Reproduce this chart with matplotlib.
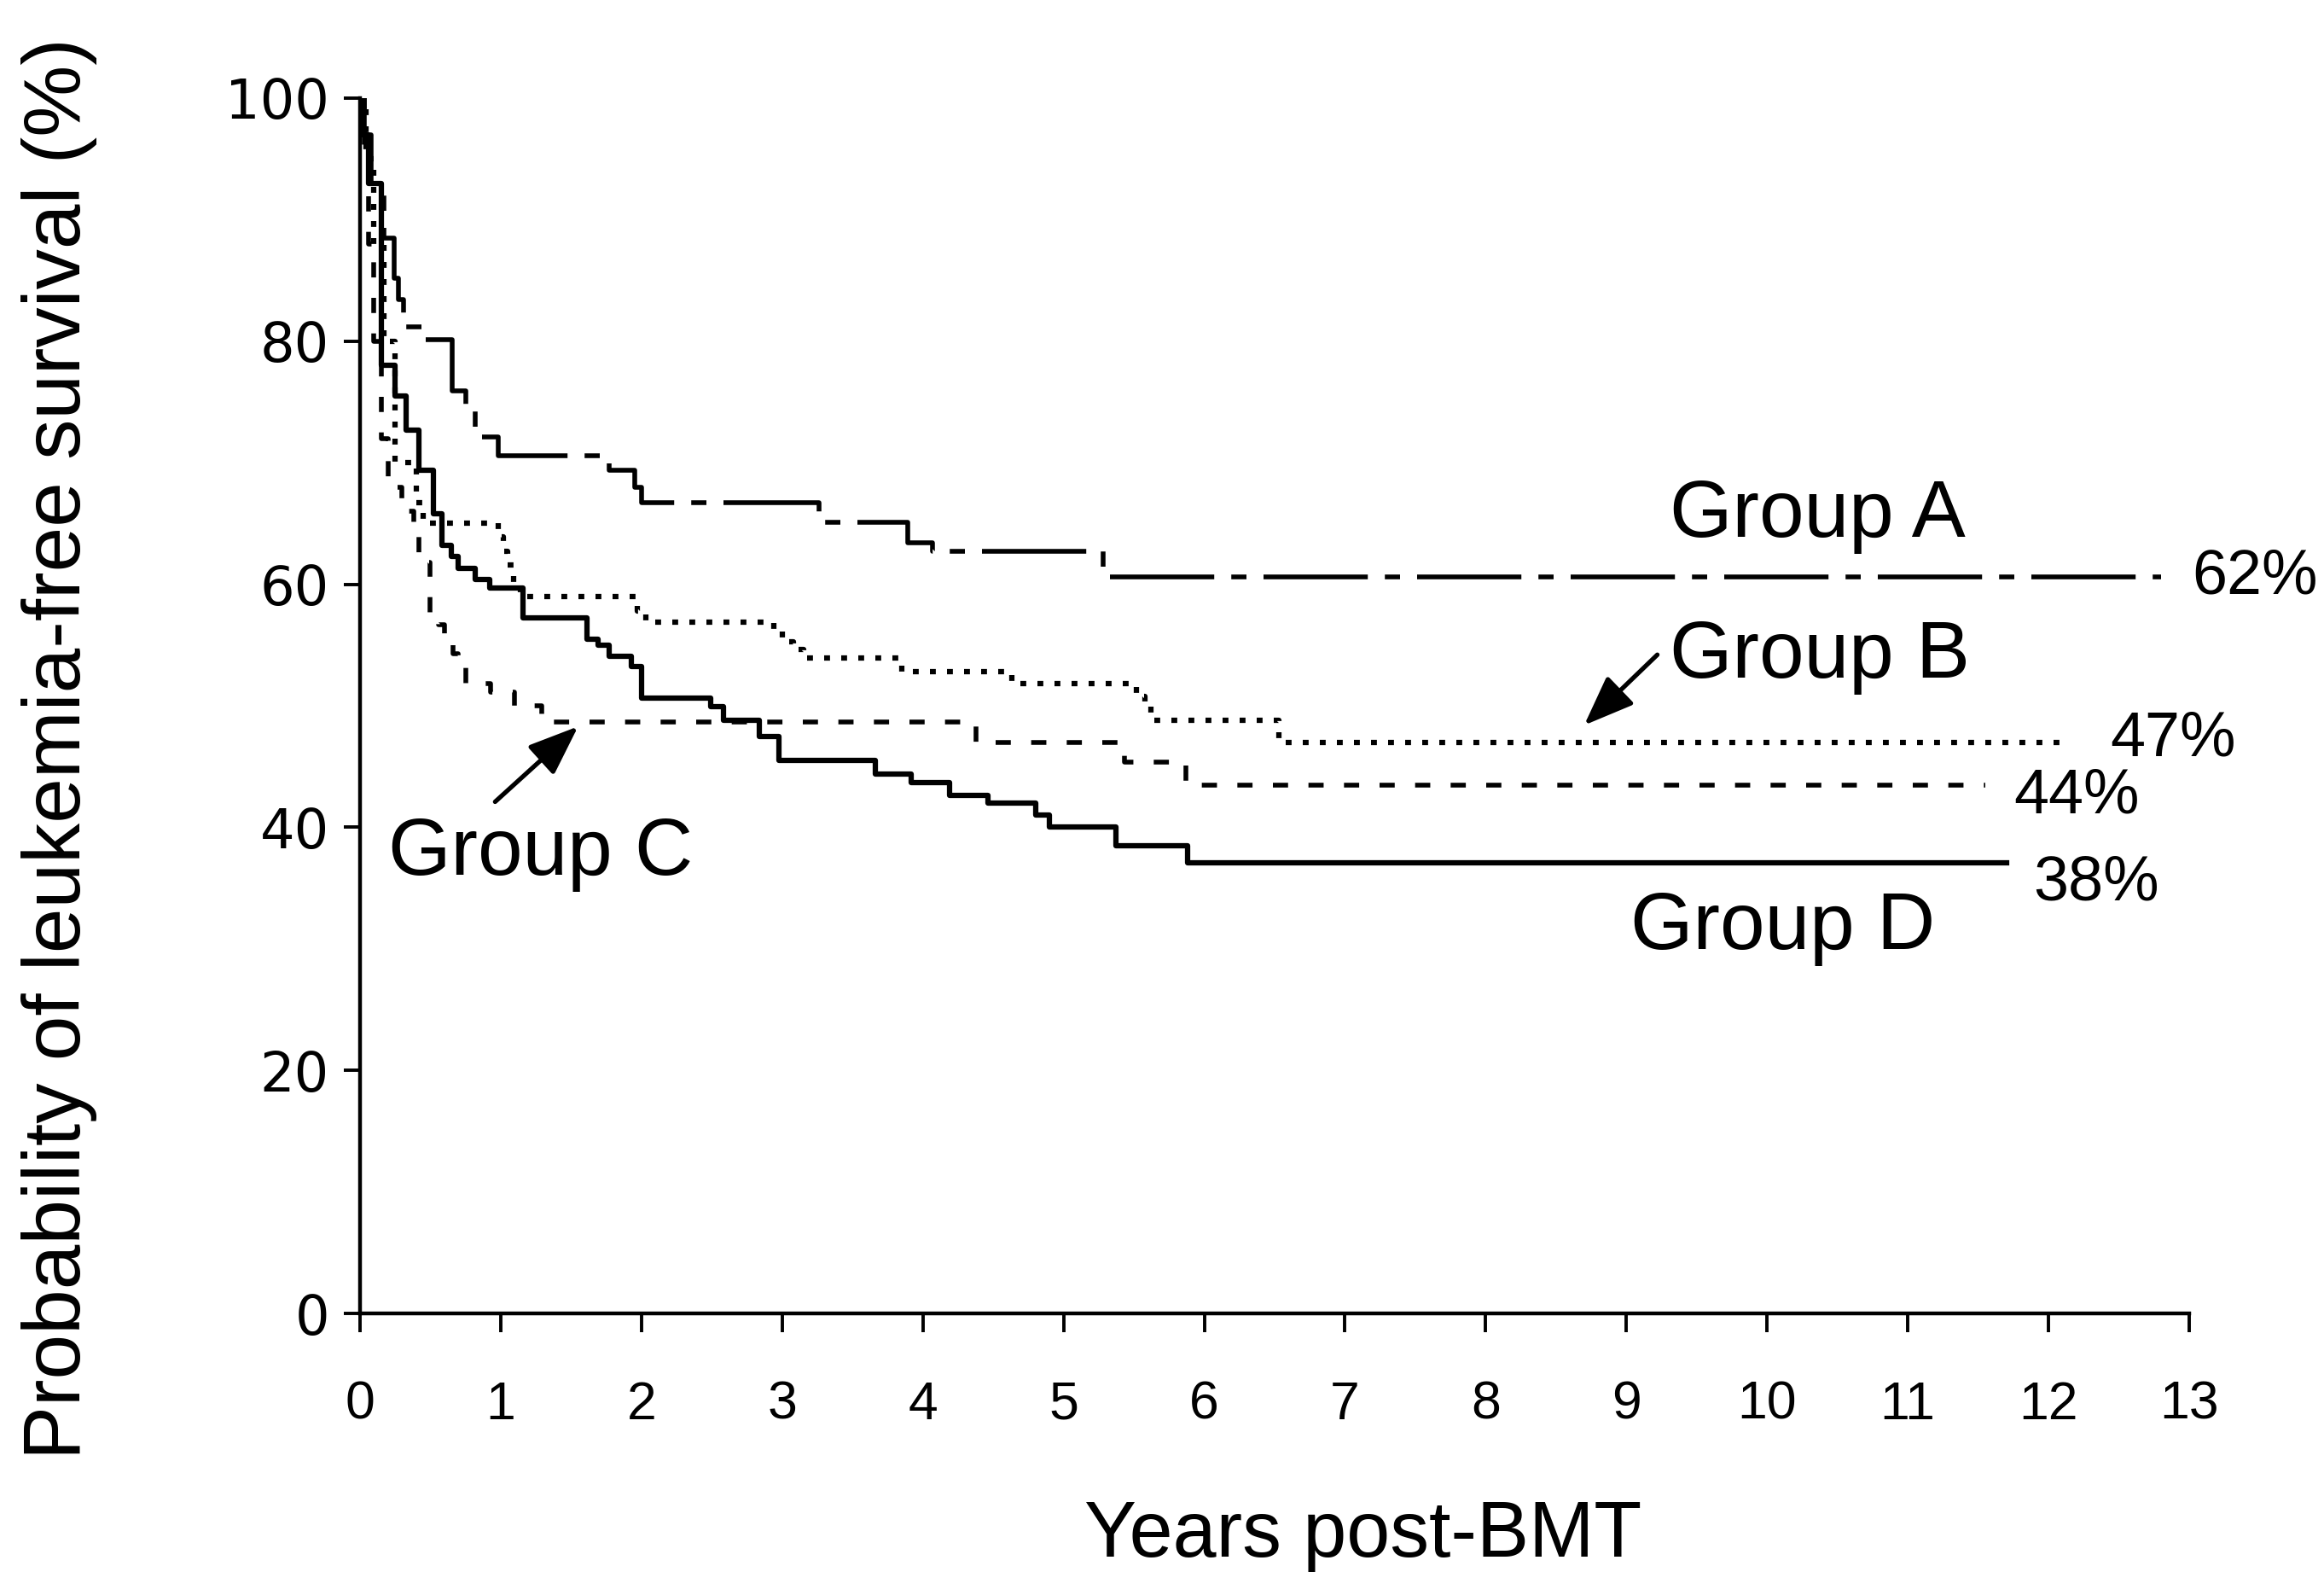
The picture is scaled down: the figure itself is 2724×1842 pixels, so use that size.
import matplotlib
matplotlib.use("Agg")
import matplotlib.pyplot as plt

# ---- data (years post-BMT, % leukemia-free survival), step functions ----
A_t = [0, 0.03, 0.08, 0.17, 0.24, 0.27, 0.31, 0.46, 0.655, 0.75, 0.82, 0.98,
       1.77, 1.95, 2.0, 3.26, 3.89, 4.07, 5.28, 12.8]
A_s = [100, 97, 93, 88.5, 85.2, 83.4, 81.2, 80.1, 75.9, 74.3, 72.1, 70.6,
       69.4, 68.0, 66.7, 65.1, 63.4, 62.7, 60.6, 60.6]

B_t = [0, 0.04, 0.1, 0.17, 0.25, 0.4, 0.45, 0.98, 1.02, 1.05, 1.09, 1.14,
       1.97, 2.03, 2.94, 3.0, 3.08, 3.15, 3.85, 4.63, 5.52, 5.58, 5.62, 6.53, 12.15]
B_s = [100, 95, 88, 80, 70, 66.7, 65.0, 63.9, 62.7, 61.6, 60.2, 59.0,
       57.8, 56.9, 56.2, 55.3, 54.6, 53.9, 52.8, 51.8, 50.8, 50.2, 48.8, 47.0, 47.0]

C_t = [0, 0.03, 0.06, 0.1, 0.15, 0.2, 0.3, 0.38, 0.42, 0.47, 0.5, 0.56, 0.6,
       0.66, 0.7, 0.75, 0.93, 1.1, 1.29, 4.38, 5.43, 5.87, 11.55]
C_s = [100, 95, 88, 80, 72, 68, 66, 64, 62.5, 61.8, 57.1, 56.7, 55.7,
       54.3, 53.4, 51.8, 51.1, 50.0, 48.7, 47.0, 45.4, 43.5, 43.5]

D_t = [0, 0.02, 0.06, 0.15, 0.25, 0.33, 0.42, 0.52, 0.58, 0.65, 0.7, 0.82, 0.92,
       1.16, 1.61, 1.69, 1.77, 1.93, 2.0, 2.49, 2.58, 2.84, 2.98, 3.66, 3.92,
       4.19, 4.46, 4.8, 4.9, 5.37, 5.88, 11.7]
D_s = [100, 97, 93, 78, 75.5, 72.7, 69.4, 65.8, 63.2, 62.3, 61.3, 60.4, 59.7,
       57.2, 55.5, 55.0, 54.1, 53.2, 50.6, 49.9, 48.8, 47.5, 45.5, 44.4, 43.7,
       42.6, 42.0, 41.0, 40.0, 38.5, 37.1, 37.1]

x_ticks = list(range(0, 14))
y_ticks = [0, 20, 40, 60, 80, 100]
group_names = ["Group A", "Group B", "Group C", "Group D"]
final_labels = ["62%", "47%", "44%", "38%"]

# ---- figure ----
W, H = 2724, 1842
fig = plt.figure(figsize=(W / 100, H / 100), dpi=100)
ax = fig.add_axes([422 / W, (H - 1539) / H, (2566 - 422) / W, (1539 - 115) / H])

ax.step(A_t, A_s, where="post", color="black", lw=4.0,
        linestyle=(0, (22, 3.6, 3.2, 3.6)))
ax.step(B_t, B_s, where="post", color="black", lw=4.5,
        linestyle=(0, (1.1, 2.1)))
ax.step(C_t, C_s, where="post", color="black", lw=4.0,
        linestyle=(0, (3.2, 4.3)))
ax.step(D_t, D_s, where="post", color="black", lw=4.5, linestyle="-")

ax.set_xlim(0, 13)
ax.set_ylim(0, 100)
for s in ["top", "right"]:
    ax.spines[s].set_visible(False)
for s in ["left", "bottom"]:
    ax.spines[s].set_linewidth(3.2)
ax.set_xticks(x_ticks)
ax.set_yticks(y_ticks)
ax.tick_params(axis="x", direction="out", length=16, width=2.8, pad=40,
               labelsize=45)
ax.tick_params(axis="y", direction="out", length=14, width=2.8, pad=12,
               labelsize=46)
for lab in ax.get_xticklabels():
    lab.set_family(["Liberation Sans", "DejaVu Sans"])
for lab in ax.get_yticklabels():
    lab.set_family(["DejaVu Sans"])

txt_font = ["Liberation Sans", "DejaVu Sans"]
fig.text(1598 / W, (H - 1824) / H, "Years post-BMT", ha="center", va="baseline",
         fontsize=66, family=txt_font)
fig.text(70 / W, 0.524, "Probability of leukemia-free survival (%)", rotation=90,
         ha="center", va="center", fontsize=68, family=txt_font)

# group labels
ax.text(9.31, 63.9, group_names[0], fontsize=68, family=txt_font, va="baseline")
ax.text(9.31, 52.3, group_names[1], fontsize=68, family=txt_font, va="baseline")
ax.text(0.20, 36.1, group_names[2], fontsize=68, family=txt_font, va="baseline")
ax.text(9.03, 30.0, group_names[3], fontsize=68, family=txt_font, va="baseline")

# final percentages
ax.text(13.02, 59.2, final_labels[0], fontsize=53, family=txt_font, va="baseline")
ax.text(12.44, 45.9, final_labels[1], fontsize=53, family=txt_font, va="baseline")
ax.text(11.75, 41.2, final_labels[2], fontsize=53, family=txt_font, va="baseline")
ax.text(11.89, 34.0, final_labels[3], fontsize=53, family=txt_font, va="baseline")

arrow = dict(arrowstyle="-|>,head_length=0.9,head_width=0.35", lw=3.8,
             color="black", mutation_scale=40, shrinkA=0, shrinkB=0)
ax.annotate("", xy=(8.70, 48.4), xytext=(9.22, 54.2), arrowprops=arrow)
ax.annotate("", xy=(1.55, 48.3), xytext=(0.96, 42.1), arrowprops=arrow)

fig.savefig("out.png", dpi=100, facecolor="white")
